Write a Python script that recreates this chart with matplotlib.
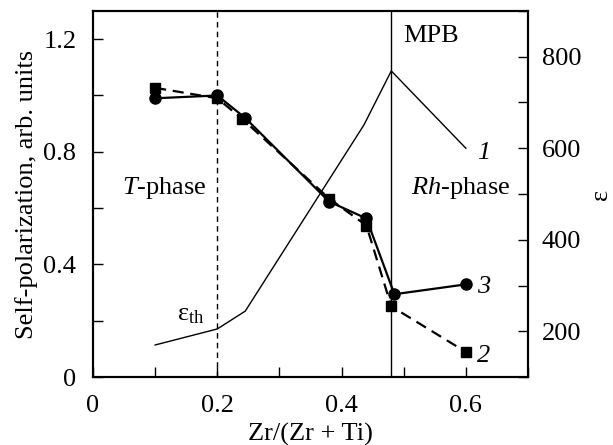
import numpy as np
import matplotlib.pyplot as plt
from matplotlib.ticker import MultipleLocator

plt.rcParams['font.family'] = ['Liberation Serif', 'DejaVu Serif']
plt.rcParams['mathtext.fontset'] = 'custom'
plt.rcParams['mathtext.rm'] = 'Liberation Serif'
plt.rcParams['mathtext.it'] = 'Liberation Serif:italic'

# curve 1: permittivity (right axis)
x_eps = [0.1, 0.2, 0.245, 0.436, 0.48, 0.6]
eps = [170, 205, 244, 651, 769, 600]

# curve 3: circles, solid
x_c = [0.1, 0.2, 0.245, 0.38, 0.44, 0.485, 0.6]
p_c = [0.99, 1.0, 0.92, 0.623, 0.563, 0.294, 0.329]

# curve 2: squares, dashed
x_s = [0.1, 0.2, 0.24, 0.38, 0.44, 0.48, 0.6]
p_s = [1.027, 0.99, 0.917, 0.634, 0.538, 0.251, 0.089]

fs = 19

fig = plt.figure(figsize=(6.13, 4.45), dpi=100)
ax = fig.add_axes([93/613, 68/445, 435/613, 366/445])
ax2 = ax.twinx()

ax.plot(x_c, p_c, 'k-', marker='o', ms=8, lw=1.6)
ax.plot(x_s, p_s, 'k--', marker='s', ms=7, lw=1.6, dashes=(5, 3))
ax2.plot(x_eps, eps, 'k-', lw=1)

ax.axvline(0.2, color='k', ls='--', lw=1, dashes=(4, 3))
ax.axvline(0.48, color='k', lw=1)

ax.set_xlim(0, 0.7)
ax.set_ylim(0, 1.3)
ax2.set_ylim(100, 900)

ax.xaxis.set_minor_locator(MultipleLocator(0.1))
ax.yaxis.set_minor_locator(MultipleLocator(0.2))
ax2.yaxis.set_minor_locator(MultipleLocator(100))
ax.set_xticks([0, 0.2, 0.4, 0.6])
ax.set_xticklabels(['0', '0.2', '0.4', '0.6'])
ax.set_yticks([0, 0.4, 0.8, 1.2])
ax.set_yticklabels(['0', '0.4', '0.8', '1.2'])
ax2.set_yticks([200, 400, 600, 800])

for a in (ax, ax2):
    a.tick_params(which='both', direction='in', length=7, width=1, labelsize=fs)
    for s in a.spines.values():
        s.set_linewidth(1.5)
ax.tick_params(axis='y', pad=12)
ax.tick_params(axis='x', pad=13)
ax2.tick_params(axis='y', pad=10)

ax.set_xlabel('Zr/(Zr + Ti)', fontsize=fs, labelpad=4)
ax.set_ylabel('Self-polarization, arb. units', fontsize=fs, labelpad=4)
ax2.set_ylabel('ε', fontsize=fs, rotation=90, labelpad=6)

ax.text(0.5, 1.19, 'MPB', fontsize=fs)
ax.text(0.047, 0.65, r'$T$-phase', fontsize=fs)
ax.text(0.511, 0.65, r'$Rh$-phase', fontsize=fs)
ax.text(0.135, 0.2, r'ε$_{\mathrm{th}}$', fontsize=fs)
ax.text(0.618, 0.775, '1', fontsize=fs, style='italic')
ax.text(0.618, 0.30, '3', fontsize=fs, style='italic')
ax.text(0.618, 0.053, '2', fontsize=fs, style='italic')

fig.savefig('out.png', dpi=100)
